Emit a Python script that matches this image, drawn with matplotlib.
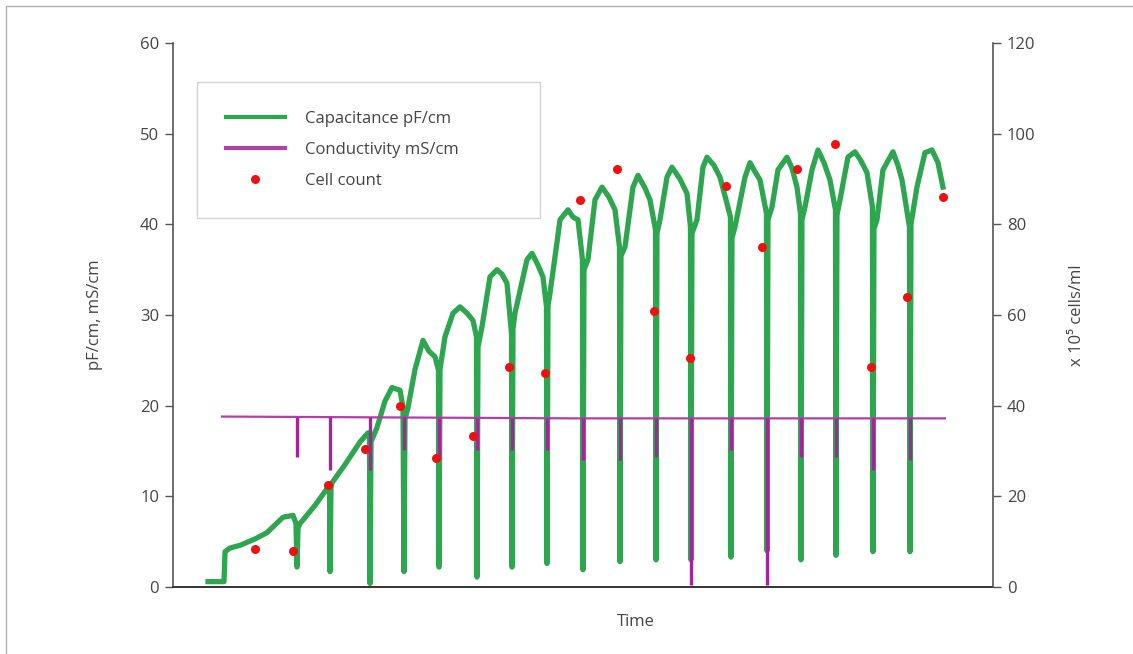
import numpy as np
import matplotlib
matplotlib.use("Agg")
import matplotlib.pyplot as plt
from matplotlib.patches import Rectangle

plt.rcParams.update(
    {
        "font.family": ["Open Sans", "DejaVu Sans"],
        "font.size": 12,
        "text.color": "#444444",
        "axes.labelcolor": "#444444",
        "xtick.color": "#555555",
        "ytick.color": "#555555",
        "xtick.labelcolor": "#444444",
        "ytick.labelcolor": "#444444",
    }
)

# capacitance trace, time in hours
cap_t = [
    7.0, 9.8, 10.2, 10.4, 11.4, 13.4, 16.4, 18.8, 22.0, 24.0, 24.6, 24.8, 25.0, 25.4,
    28.4, 31.0, 31.3, 31.4, 31.6, 31.8, 34.4, 37.4, 39.0, 39.3, 39.4, 39.6,
    40.8, 42.4, 43.8, 45.4, 46.0, 46.2, 46.4, 47.0, 48.4, 50.0, 51.2, 52.4, 53.1, 53.2,
    53.4, 54.4, 56.0, 57.4, 58.8, 60.0, 60.7, 60.8, 61.0, 61.8, 63.4, 64.8, 65.8, 66.8,
    67.7, 67.8, 68.0, 68.4, 70.8, 71.8, 73.0, 74.0, 74.7, 74.8, 75.0, 75.4, 76.8, 77.4,
    79.0, 80.0, 81.0, 81.9, 82.0, 82.2, 83.0, 84.4, 85.8, 87.2, 88.4, 89.3, 89.4, 89.6,
    90.4, 92.0, 93.0, 94.4, 95.4, 96.5, 96.6, 96.8, 97.4, 98.8, 99.8, 101.4, 102.8,
    103.5, 103.6, 103.8, 104.8, 106.0, 106.8, 108.2, 109.4, 110.8, 111.5, 111.6, 111.8,
    112.4, 114.4, 115.4, 116.4, 117.4, 118.7, 118.8, 119.0, 119.8, 121.0, 122.8, 123.8,
    124.8, 125.5, 125.6, 125.8, 126.4, 127.8, 129.0, 130.2, 131.4, 132.5, 132.6, 132.8,
    133.4, 135.0, 136.4, 137.6, 138.8, 139.9, 140.0, 140.2, 140.8, 142.0, 144.0, 145.0,
    145.8, 147.3, 147.4, 147.6, 148.8, 150.4, 151.8, 153.0, 154.0,
]
cap_v = [
    0.6, 0.6, 0.6, 3.9, 4.3, 4.6, 5.3, 6.0, 7.7, 7.9, 7.0, 2.2, 6.5, 7.0,
    9.0, 11.0, 11.2, 1.7, 11.0, 11.5, 13.5, 16.0, 17.0, 16.5, 0.4, 16.0,
    17.6, 20.5, 22.0, 21.7, 19.8, 1.7, 18.5, 19.8, 24.0, 27.2, 26.0, 25.4, 23.9, 2.2,
    24.0, 27.6, 30.2, 30.9, 30.2, 29.4, 27.6, 1.1, 26.5, 28.7, 34.2, 35.0, 34.5, 33.5,
    28.0, 2.2, 28.5, 30.2, 36.1, 36.8, 35.5, 34.2, 30.9, 2.6, 31.0, 32.4, 38.0, 40.5,
    41.6, 40.8, 40.5, 36.1, 1.9, 35.0, 36.1, 42.7, 44.1, 43.0, 41.6, 37.5, 2.8, 36.5,
    37.5, 44.1, 45.4, 44.0, 42.7, 39.4, 3.0, 39.0, 40.5, 45.2, 46.3, 45.0, 43.4,
    39.7, 3.0, 39.0, 40.5, 46.3, 47.4, 46.5, 45.2, 42.3, 40.8, 3.3, 38.5,
    39.7, 45.2, 46.8, 45.8, 44.9, 41.2, 4.0, 40.5, 41.9, 46.0, 47.4, 46.2,
    44.1, 41.2, 3.0, 40.5, 41.9, 46.0, 48.2, 46.8, 44.9, 41.6, 3.5, 41.0,
    42.7, 47.4, 48.0, 47.0, 45.7, 41.9, 3.9, 39.5, 40.5, 46.0, 48.0, 46.5,
    44.9, 39.7, 3.9, 40.0, 44.1, 47.9, 48.2, 46.8, 44.1,
]

# conductivity baseline (mS/cm) and the dips at each sampling
cond_t = [9.8, 80.0, 154.4]
cond_v = [18.8, 18.6, 18.6]
dip_t = [24.8, 31.4, 39.4, 46.2, 53.2, 60.8, 67.8, 74.8, 82.0, 89.4, 96.6, 103.6,
         111.6, 118.8, 125.6, 132.6, 140.0, 147.4]
dip_v = [14.3, 12.9, 12.9, 15.1, 14.2, 15.1, 15.1, 15.1, 14.0, 14.0, 14.3, 0.2,
         15.1, 0.2, 14.3, 14.3, 12.9, 14.0]

# cell count (x 10^5 cells/ml)
cell_t = [16.4, 24.0, 31.0, 38.4, 45.4, 52.6, 60.0, 67.2, 74.4, 81.4, 88.8, 96.2,
          103.4, 110.6, 117.8, 124.8, 132.4, 139.6, 146.8, 154.0]
cell_v = [8.4, 7.9, 22.5, 30.4, 39.9, 28.5, 33.3, 48.5, 47.2, 85.4, 92.2, 60.9,
          50.5, 88.5, 75.0, 92.2, 97.7, 48.5, 64.0, 86.0]

green = "#2ea650"
purple = "#b03fa8"
red = "#ee1111"

fig = plt.figure(figsize=(11.33, 6.54), dpi=100)
ax = fig.add_axes([0.1527, 0.1024, 0.7237, 0.8319])
ax2 = ax.twinx()

cap_line, = ax.plot(cap_t, cap_v, color=green, lw=3.8, solid_joinstyle="round",
                    label="Capacitance pF/cm", zorder=2)
cond_line, = ax.plot(cond_t, cond_v, color=purple, lw=1.6,
                     label="Conductivity mS/cm", zorder=3)
ax.vlines(dip_t, dip_v, np.interp(dip_t, cond_t, cond_v), color="#a3249b", lw=2.4, zorder=3)
cell_pts, = ax2.plot(cell_t, cell_v, "o", color=red, ms=6.5, mec="none",
                     label="Cell count", zorder=4)

ax.set_xlim(0, 164)
ax.set_ylim(0, 60)
ax2.set_ylim(0, 120)
ax.set_yticks(range(0, 61, 10))
ax2.set_yticks(range(0, 121, 20))
ax.set_xticks([])

for a in (ax, ax2):
    a.spines["top"].set_visible(False)
    for s in a.spines.values():
        s.set_color("#555555")
        s.set_linewidth(1.2)
    a.tick_params(axis="y", length=6, width=1, pad=4, labelsize=12)
ax.spines["right"].set_visible(False)
ax2.spines["left"].set_visible(False)
ax2.spines["bottom"].set_visible(False)
ax.spines["bottom"].set_color("#333333")
ax.spines["bottom"].set_linewidth(1.4)

ax.set_ylabel("pF/cm, mS/cm", fontsize=12)
ax.yaxis.set_label_coords(-0.0854, 0.5)
ax2.set_ylabel("x 10\u2075 cells/ml", fontsize=12)
ax2.yaxis.set_label_coords(1.093, 0.5)
ax.text(0.5646, -0.064, "Time", transform=ax.transAxes, ha="center", va="center",
        fontsize=12)

leg = ax2.legend(
    handles=[cap_line, cond_line, cell_pts],
    loc="upper left",
    bbox_to_anchor=(0.0293, 0.678, 0.418, 0.25),
    mode="expand",
    borderaxespad=0,
    borderpad=1.75,
    labelspacing=0.88,
    handlelength=3.5,
    handletextpad=1.2,
    fancybox=False,
    frameon=True,
    fontsize=12,
)
leg.get_frame().set_edgecolor("#c8c8c8")
leg.get_frame().set_linewidth(1.0)
for h in leg.get_lines()[:2]:
    h.set_linewidth(3)

fig.add_artist(Rectangle((6 / 1133, -0.05), 1.2, 1.05 - 6 / 654, transform=fig.transFigure,
                         fill=False, edgecolor="#b0b0b0", lw=1.0, clip_on=False))

fig.savefig("out.png", dpi=100)
